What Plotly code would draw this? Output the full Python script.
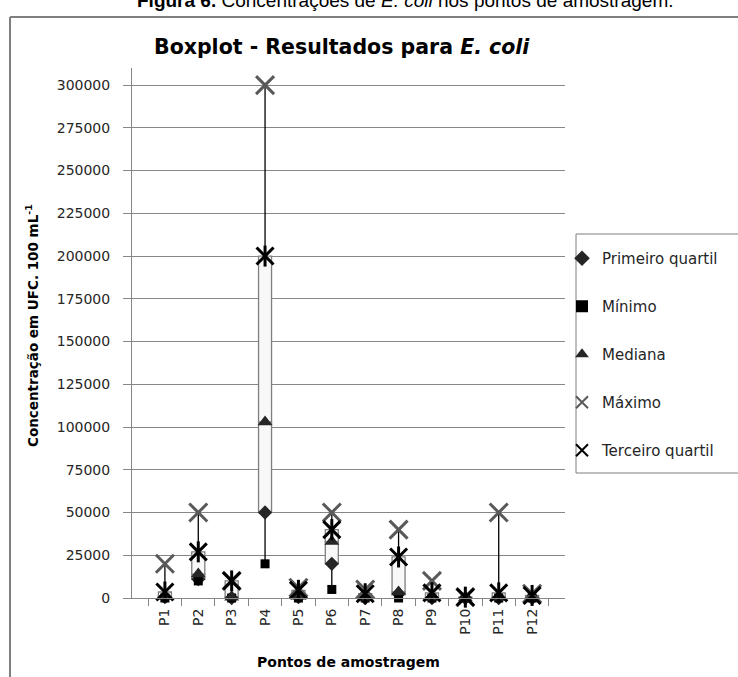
import plotly.graph_objects as go

categories = ["P1", "P2", "P3", "P4", "P5", "P6", "P7", "P8", "P9", "P10", "P11", "P12"]
minimo = [0, 10000, 0, 20000, 0, 5000, 0, 0, 0, 0, 0, 0]
primeiro_quartil = [500, 11000, 0, 50000, 500, 20000, 0, 2500, 0, 0, 0, 0]
mediana = [1000, 14000, 500, 103000, 1000, 33000, 500, 3500, 500, 0, 500, 500]
terceiro_quartil = [3500, 27000, 10000, 200000, 4500, 40000, 2500, 24000, 3000, 500, 3000, 1500]
maximo = [20000, 50000, 10000, 300000, 6000, 50000, 5000, 40000, 10000, 500, 50000, 2500]
y_ticks = list(range(0, 300001, 25000))

W, H = 738, 677
L, R, T, B = 132, 565, 68, 598  # plot area in pixels


def px(xp):
    return (xp - L) / (R - L)


def py(yp):
    return (B - yp) / (B - T)


FONT = "DejaVu Sans"
fig = go.Figure()

# boxes: Q1 -> median, median -> Q3
box_style = dict(color="#f8f8f8", line=dict(color="#7f7f7f", width=1.3))
fig.add_trace(go.Bar(x=categories, y=[m - q for m, q in zip(mediana, primeiro_quartil)],
                     base=primeiro_quartil, width=0.39, marker=box_style,
                     showlegend=False, hoverinfo="skip"))
fig.add_trace(go.Bar(x=categories, y=[q - m for q, m in zip(terceiro_quartil, mediana)],
                     base=mediana, width=0.39, marker=box_style,
                     showlegend=False, hoverinfo="skip"))

# whiskers (min -> Q1 and Q3 -> max), so the line does not run through the box
wx, wy = [], []
for c, lo, q1, q3, hi in zip(categories, minimo, primeiro_quartil, terceiro_quartil, maximo):
    wx += [c, c, None, c, c, None]
    wy += [lo, q1, None, q3, hi, None]
fig.add_trace(go.Scatter(x=wx, y=wy, mode="lines", line=dict(color="black", width=1.3),
                         showlegend=False, hoverinfo="skip", cliponaxis=False))

fig.add_trace(go.Scatter(x=categories, y=primeiro_quartil, mode="markers", name="Primeiro quartil",
                         legendgroup="a", cliponaxis=False,
                         marker=dict(symbol="diamond", size=11, color="#262626")))
fig.add_trace(go.Scatter(x=categories, y=minimo, mode="markers", name="Mínimo",
                         legendgroup="b", cliponaxis=False,
                         marker=dict(symbol="square", size=9, color="black")))
fig.add_trace(go.Scatter(x=categories, y=mediana, mode="markers", name="Mediana",
                         legendgroup="c", cliponaxis=False,
                         marker=dict(symbol="triangle-up", size=13, color="#262626")))
fig.add_trace(go.Scatter(x=categories, y=maximo, mode="markers", name="Máximo",
                         legendgroup="d", cliponaxis=False,
                         marker=dict(symbol="x-thin-open", size=18, color="#595959",
                                     line=dict(color="#595959", width=3))))
fig.add_trace(go.Scatter(x=categories, y=terceiro_quartil, mode="markers", name="Terceiro quartil",
                         legendgroup="e", cliponaxis=False,
                         marker=dict(symbol="x-thin-open", size=17, color="black",
                                     line=dict(color="black", width=3))))
fig.add_trace(go.Scatter(x=categories, y=terceiro_quartil, mode="markers", showlegend=False,
                         legendgroup="e", cliponaxis=False,
                         marker=dict(symbol="line-ns-open", size=15, color="black",
                                     line=dict(color="black", width=3))))

fig.update_layout(
    width=W, height=H,
    margin=dict(l=L, r=W - R, t=T, b=H - B, autoexpand=False),
    plot_bgcolor="white", paper_bgcolor="white",
    barmode="overlay",
    font=dict(family=FONT, size=14, color="#262626"),
    legend=dict(x=px(562), xanchor="left", y=py(242), yanchor="top",
                bgcolor="rgba(0,0,0,0)", borderwidth=0, tracegroupgap=25.5,
                itemsizing="constant",
                font=dict(family=FONT, size=15, color="#262626")),
    xaxis=dict(type="category", categoryorder="array", categoryarray=categories,
               showline=True, linecolor="#868686", linewidth=1,
               ticks="outside", tickson="boundaries", ticklen=7, tickcolor="#868686",
               tickangle=-90, showgrid=False, ticklabelstandoff=4,
               tickfont=dict(family=FONT, size=14, color="#262626")),
    yaxis=dict(range=[0, 310000], tickvals=y_ticks, ticktext=[str(v) for v in y_ticks],
               showline=True, linecolor="#868686", linewidth=1,
               ticks="outside", ticklen=8, tickcolor="#868686", ticklabelstandoff=10,
               showgrid=True, gridcolor="#868686", gridwidth=1, zeroline=False,
               tickfont=dict(family=FONT, size=14, color="#262626")),
    shapes=[
        # legend border
        dict(type="rect", xref="paper", yref="paper", x0=px(576), x1=px(748), y0=py(473), y1=py(234),
             line=dict(color="#7f7f7f", width=1), fillcolor="rgba(0,0,0,0)"),
        # document frame
        dict(type="line", xref="paper", yref="paper", x0=px(10), x1=px(10), y0=py(17), y1=py(690),
             line=dict(color="#7f7f7f", width=2)),
        dict(type="line", xref="paper", yref="paper", x0=px(10), x1=px(745), y0=py(17), y1=py(17),
             line=dict(color="#7f7f7f", width=2)),
    ],
    annotations=[
        dict(text="<b>Figura 6.</b> Concentrações de <i>E. coli</i> nos pontos de amostragem.",
             xref="paper", yref="paper", x=px(405), y=py(1), xanchor="center", yanchor="middle",
             showarrow=False, font=dict(family="Liberation Sans", size=19, color="black")),
        dict(text="<b>Boxplot - Resultados para <i>E. coli</i></b>",
             xref="paper", yref="paper", x=px(342), y=py(47), xanchor="center", yanchor="middle",
             showarrow=False, font=dict(family=FONT, size=20.5, color="black")),
        dict(text="<b>Concentração em UFC. 100 mL<sup>-1</sup></b>",
             xref="paper", yref="paper", x=px(32), y=py(326), xanchor="center", yanchor="middle",
             textangle=-90, showarrow=False, font=dict(family=FONT, size=13.5, color="black")),
        dict(text="<b>Pontos de amostragem</b>",
             xref="paper", yref="paper", x=px(348), y=py(662), xanchor="center", yanchor="middle",
             showarrow=False, font=dict(family=FONT, size=14, color="black")),
    ],
)

fig.write_html("out.html", config={"displayModeBar": False},
               post_script="document.body.style.margin='0';document.body.style.overflow='hidden';")
